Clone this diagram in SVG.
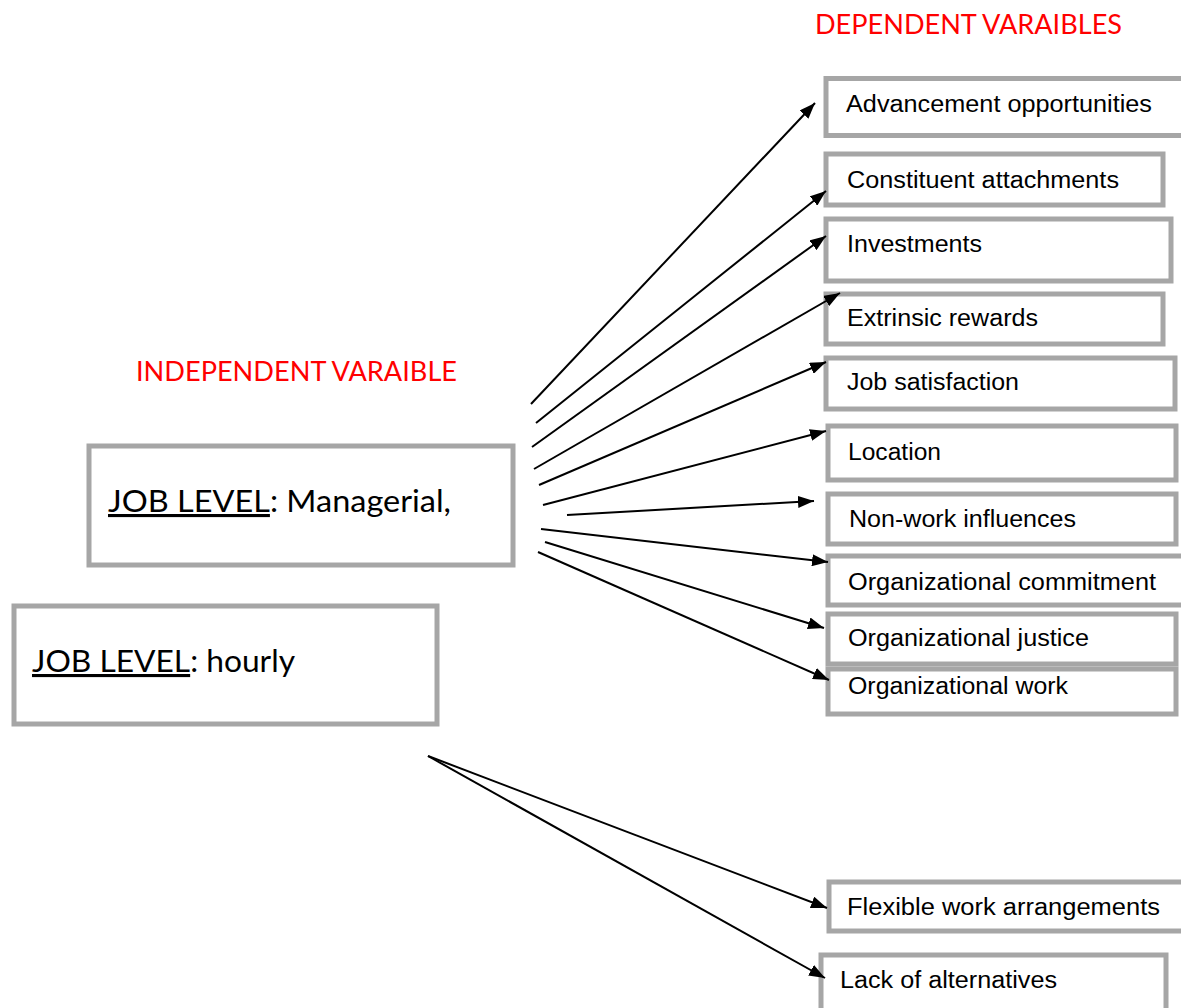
<svg xmlns="http://www.w3.org/2000/svg" width="1181" height="1008" viewBox="0 0 1181 1008">
<style>
.box{fill:#fff;stroke:#A6A6A6;stroke-width:5}
.lbl{font-family:"Liberation Sans",Arial,sans-serif;font-size:23px;fill:#000}
.big{font-family:Lato,"Open Sans",sans-serif;font-size:31px;fill:#000}
.red{font-family:Lato,"Open Sans",sans-serif;font-size:26px;fill:#FF0000}
.conn line{stroke:#000;stroke-width:2;marker-end:url(#arr)}
</style>
<defs>
<marker id="arr" viewBox="0 0 16 12" refX="16" refY="6" markerWidth="16" markerHeight="12" markerUnits="userSpaceOnUse" orient="auto">
<path d="M0,0 L16,6 L0,12 Z" fill="#000"/>
</marker>
</defs>
<rect width="1181" height="1008" fill="#fff"/>
<text class="red" x="815" y="34" textLength="307" lengthAdjust="spacingAndGlyphs">DEPENDENT VARAIBLES</text>
<text class="red" x="136" y="381" textLength="321" lengthAdjust="spacingAndGlyphs">INDEPENDENT VARAIBLE</text>
<g id="managerial"><rect class="box" x="89" y="446" width="424" height="119"/><text class="big" x="108" y="512" textLength="343" lengthAdjust="spacingAndGlyphs"><tspan text-decoration="underline">JOB LEVEL</tspan>: Managerial,</text></g>
<g id="hourly"><rect class="box" x="14" y="606" width="423" height="118"/><text class="big" x="32" y="672" textLength="263" lengthAdjust="spacingAndGlyphs"><tspan text-decoration="underline">JOB LEVEL</tspan>: hourly</text></g>
<g id="advancement"><rect class="box" x="826" y="78.5" width="370" height="57"/><text class="lbl" x="846" y="112" textLength="306" lengthAdjust="spacingAndGlyphs">Advancement opportunities</text></g>
<g id="constituent"><rect class="box" x="826" y="154" width="337" height="51"/><text class="lbl" x="847" y="188" textLength="272" lengthAdjust="spacingAndGlyphs">Constituent attachments</text></g>
<g id="investments"><rect class="box" x="826" y="219" width="345" height="62"/><text class="lbl" x="847" y="252" textLength="135" lengthAdjust="spacingAndGlyphs">Investments</text></g>
<g id="extrinsic"><rect class="box" x="826" y="294" width="337" height="50"/><text class="lbl" x="847" y="326" textLength="191" lengthAdjust="spacingAndGlyphs">Extrinsic rewards</text></g>
<g id="jobsat"><rect class="box" x="826" y="358" width="349" height="51"/><text class="lbl" x="847" y="390" textLength="172" lengthAdjust="spacingAndGlyphs">Job satisfaction</text></g>
<g id="location"><rect class="box" x="828" y="426" width="348" height="54"/><text class="lbl" x="848" y="460" textLength="93" lengthAdjust="spacingAndGlyphs">Location</text></g>
<g id="nonwork"><rect class="box" x="828" y="494" width="348" height="50"/><text class="lbl" x="849" y="527" textLength="227" lengthAdjust="spacingAndGlyphs">Non-work influences</text></g>
<g id="orgcommit"><rect class="box" x="828" y="556" width="360" height="49"/><text class="lbl" x="848" y="590" textLength="308" lengthAdjust="spacingAndGlyphs">Organizational commitment</text></g>
<g id="orgjustice"><rect class="box" x="828" y="614" width="348" height="50"/><text class="lbl" x="848" y="646" textLength="241" lengthAdjust="spacingAndGlyphs">Organizational justice</text></g>
<g id="orgwork"><rect class="box" x="828" y="669" width="348" height="45"/><text class="lbl" x="848" y="694" textLength="220" lengthAdjust="spacingAndGlyphs">Organizational work</text></g>
<g id="flexible"><rect class="box" x="829" y="882" width="360" height="49"/><text class="lbl" x="847" y="915" textLength="313" lengthAdjust="spacingAndGlyphs">Flexible work arrangements</text></g>
<g id="lack"><rect class="box" x="821" y="955" width="345" height="60"/><text class="lbl" x="840" y="988" textLength="217" lengthAdjust="spacingAndGlyphs">Lack of alternatives</text></g>
<g id="connectors" class="conn">
<line x1="531" y1="404" x2="815" y2="103"/>
<line x1="536" y1="423" x2="826" y2="191"/>
<line x1="532" y1="447" x2="826" y2="236"/>
<line x1="534" y1="469" x2="840" y2="293"/>
<line x1="539" y1="485" x2="826" y2="362"/>
<line x1="543" y1="505" x2="826" y2="431"/>
<line x1="567" y1="515" x2="814" y2="501"/>
<line x1="541" y1="529" x2="828" y2="562"/>
<line x1="545" y1="542" x2="824" y2="628"/>
<line x1="538" y1="552" x2="829" y2="680"/>
<line x1="428" y1="756" x2="827" y2="908"/>
<line x1="428" y1="756" x2="825" y2="978"/>
</g>
</svg>
